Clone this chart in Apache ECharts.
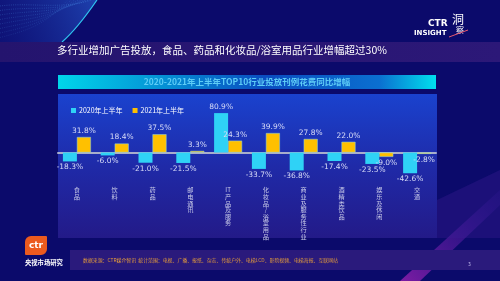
<!DOCTYPE html>
<html>
<head>
<meta charset="utf-8">
<script src="https://cdn.jsdelivr.net/npm/echarts@6/dist/echarts.min.js"></script>
<style>
  html, body { margin: 0; padding: 0; background: #0b0a6b; }
  #main { width: 500px; height: 281px; }
</style>
</head>
<body>
<div id="main"></div>
<script>
// 行业分类
var categories = ['食品', '饮料', '药品', '邮电通讯', 'IT产品及服务', '化妆品/浴室用品', '商业及服务性行业', '酒精类饮品', '娱乐及休闲', '交通'];
// 同比增幅 %
var h1_2020 = [-18.3, -6.0, -21.0, -21.5, 80.9, -33.7, -36.8, -17.4, -23.5, -42.6];
var h1_2021 = [31.8, 18.4, 37.5, 3.3, 24.3, 39.9, 27.8, 22.0, -9.0, -2.8];
var seriesNames = ['2020年上半年', '2021年上半年'];

var FONT = '"Noto Sans CJK SC", "Noto Sans", sans-serif';
var chart = echarts.init(document.getElementById('main'));

// 竖排标签
function vertical(name) {
  var out = [];
  var i = 0;
  while (i < name.length) {
    if (name.substr(i, 2) === 'IT') { out.push('IT'); i += 2; }
    else { out.push(name[i]); i++; }
  }
  return out.join('\n');
}

function pct(p) { return p.value.toFixed(1) + '%'; }

// 负值标签放在柱子下方
function withLabels(arr) {
  return arr.map(function (v) {
    return v < 0 ? { value: v, label: { position: 'bottom' } } : v;
  });
}

// 左上角的点状波浪
var waves = [
  { type: 'polygon', silent: true,
    shape: { points: [[0, 0], [97, 0], [90, 10], [82, 20], [73, 31], [62, 42], [0, 42]] },
    style: { fill: new echarts.graphic.LinearGradient(1, 0, 0, 1, [{ offset: 0, color: 'rgba(45,110,230,0.55)' }, { offset: 1, color: 'rgba(30,60,180,0.15)' }]) } }
];
for (var w = 0; w < 8; w++) {
  waves.push({
    type: 'bezierCurve', silent: true,
    shape: { x1: 0, y1: 6 + w * 4.5, x2: 92 - w * 3.5, y2: 0, cpx1: 30, cpy1: 2 + w * 4, cpx2: 60 - w * 2, cpy2: 10 + w * 2 },
    style: { stroke: 'rgba(90,170,250,' + (0.45 - w * 0.03) + ')', lineWidth: 0.7, lineDash: [0.8, 1.4], fill: null }
  });
}
waves.push({
  type: 'bezierCurve', silent: true,
  shape: { x1: 97, y1: 0, cpx1: 86, cpy1: 16, cpx2: 76, cpy2: 30, x2: 62, y2: 42 },
  style: { stroke: '#2fc4f0', lineWidth: 1.2, fill: null }
});

var option = {
  backgroundColor: '#0b0a6b',
  animation: false,
  graphic: waves.concat([
    // 标题条
    { type: 'rect', shape: { x: 0, y: 42, width: 500, height: 20 },
      style: { fill: new echarts.graphic.LinearGradient(0, 0, 1, 0, [{ offset: 0, color: '#24146e' }, { offset: 1, color: '#2c1878' }]) }, silent: true },
    { type: 'text', left: 57, top: 45, style: { text: '多行业增加广告投放，食品、药品和化妆品/浴室用品行业增幅超过30%', fill: '#ffffff', font: '10.5px ' + FONT } },
    // logo
    { type: 'text', left: 428, top: 19, style: { text: 'CTR', fill: '#ffffff', font: 'bold 9px "DejaVu Sans", sans-serif' } },
    { type: 'text', left: 414, top: 30, style: { text: 'INSIGHT', fill: '#ffffff', font: 'bold 7px "DejaVu Sans", sans-serif' } },
    { type: 'text', left: 452, top: 13, style: { text: '洞', fill: '#ffffff', font: '12px ' + FONT } },
    { type: 'text', left: 456, top: 26, style: { text: '察', fill: '#ffffff', font: '8px ' + FONT } },
    { type: 'line', shape: { x1: 449, y1: 37, x2: 468, y2: 30 }, style: { stroke: '#e85a70', lineWidth: 1 } },
    // 图表标题条
    { type: 'rect', shape: { x: 58, y: 75, width: 378, height: 14 },
      style: { fill: new echarts.graphic.LinearGradient(0, 0, 1, 0, [
        { offset: 0, color: '#00d6ea' }, { offset: 0.55, color: '#0a4cc0' }, { offset: 0.85, color: '#0b6fd0' }, { offset: 1, color: '#00e0ee' }]) }, silent: true },
    { type: 'text', x: 247, y: 82, style: { text: '2020-2021年上半年TOP10行业投放刊例花费同比增幅', fill: '#5ecdf6', font: 'bold 8.5px ' + FONT, align: 'center', verticalAlign: 'middle' } },
    // 图表面板
    { type: 'rect', shape: { x: 58, y: 94, width: 379, height: 144 }, z: -10,
      style: { fill: new echarts.graphic.LinearGradient(0, 0, 0, 1, [{ offset: 0, color: '#1a42ce' }, { offset: 0.5, color: '#1f2aa8' }, { offset: 1, color: '#231a88' }]) }, silent: true },
    // 右下角装饰
    { type: 'polygon', shape: { points: [[400, 281], [500, 190], [500, 205], [420, 281]] },
      style: { fill: new echarts.graphic.LinearGradient(0, 1, 1, 0, [{ offset: 0, color: 'rgba(200,40,200,0.6)' }, { offset: 1, color: 'rgba(90,40,200,0.1)' }]) }, silent: true },
    { type: 'polygon', shape: { points: [[437, 238], [437, 200], [500, 170], [500, 238]] },
      style: { fill: 'rgba(60,30,150,0.35)' }, silent: true },
    // 数据来源条
    { type: 'rect', shape: { x: 70, y: 250, width: 430, height: 20 }, style: { fill: '#2a1a7c' }, silent: true },
    { type: 'text', left: 83, top: 257.5, style: { text: '数据来源：CTR媒介智讯  统计范围：电视、广播、报纸、杂志、传统户外、电梯LCD、影院视频、电梯海报、互联网站', fill: '#e39a3c', font: '4.9px ' + FONT } },
    { type: 'text', left: 468, top: 262, style: { text: '3', fill: '#c8c0f0', font: '5px ' + FONT } },
    // ctr 标志
    { type: 'rect', shape: { x: 25, y: 236, width: 22, height: 19, r: [6, 1, 6, 1] }, style: { fill: '#ec5a1e' } },
    { type: 'text', x: 36, y: 246, style: { text: 'ctr', fill: '#ffffff', font: 'bold 9px "DejaVu Sans", sans-serif', align: 'center', verticalAlign: 'middle' } },
    { type: 'text', left: 25, top: 259, style: { text: '央视市场研究', fill: '#ffffff', font: 'bold 6.3px ' + FONT } }
  ]),
  legend: {
    left: 66, top: 102,
    itemWidth: 5, itemHeight: 5, itemGap: 10,
    icon: 'rect',
    itemStyle: { borderWidth: 0 },
    textStyle: { color: '#ffffff', fontSize: 7, fontFamily: FONT, padding: [0, 0, 0, -2] },
    data: seriesNames
  },
  grid: { left: 58, width: 378, top: 108.67, height: 73.05 },
  xAxis: {
    type: 'category',
    data: categories,
    axisLine: { onZero: true, lineStyle: { color: '#a8aecb', width: 2 } },
    axisTick: { show: false },
    axisLabel: {
      interval: 0, margin: 5, color: '#c8cae8', fontSize: 6.2, lineHeight: 6.6, fontFamily: FONT,
      verticalAlign: 'top', formatter: vertical
    }
  },
  yAxis: {
    type: 'value', min: -60, max: 90, show: false, splitLine: { show: false }
  },
  series: [
    {
      name: seriesNames[0], type: 'bar', data: withLabels(h1_2020), barWidth: 14, barGap: '0%',
      itemStyle: { color: '#2fd2f6' },
      label: {
        show: true, position: 'top', distance: 2, formatter: pct,
        color: '#d8dcf8', fontSize: 7.5, fontFamily: '"DejaVu Sans", sans-serif'
      }
    },
    {
      name: seriesNames[1], type: 'bar', data: withLabels(h1_2021), barWidth: 14,
      itemStyle: { color: '#ffc000', borderColor: '#8fd8e8', borderWidth: 0.5 },
      label: {
        show: true, position: 'top', distance: 2, formatter: pct,
        color: '#d8dcf8', fontSize: 7.5, fontFamily: '"DejaVu Sans", sans-serif'
      }
    }
  ]
};

chart.setOption(option);
</script>
</body>
</html>
